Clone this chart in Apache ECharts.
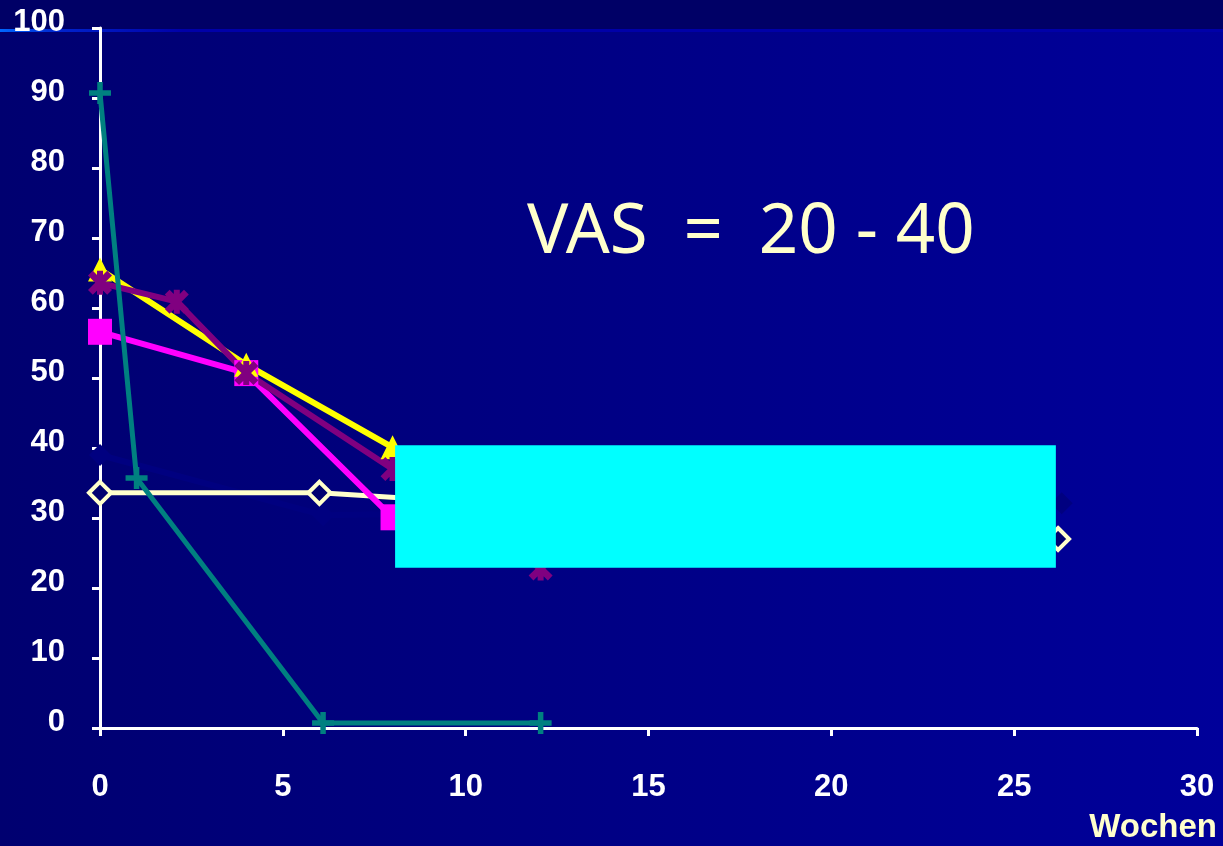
<!DOCTYPE html>
<html>
<head>
<meta charset="utf-8">
<script src="https://cdn.jsdelivr.net/npm/echarts@6/dist/echarts.min.js"></script>
<style>
    html, body { margin: 0; padding: 0; }
    #chart {
        width: 1223px;
        height: 846px;
        background: linear-gradient(to right, #000070, #00009a);
    }
</style>
</head>
<body>
<div id="chart"></div>
<script>
// Wochen / VAS
var xTicks = [0, 5, 10, 15, 20, 25, 30];
var yTicks = [0, 10, 20, 30, 40, 50, 60, 70, 80, 90, 100];

var tealX = [0, 1, 6.1, 12.05];
var tealY = [90.7, 35.7, 0.7, 0.7];

var yellowX = [0, 4, 8];
var yellowY = [65.5, 51.9, 40.1];

var purpleX = [0, 2.1, 4, 8, 12.05];
var purpleY = [63.6, 60.9, 50.7, 37, 22.8];

var magentaX = [0, 4, 8];
var magentaY = [56.6, 50.7, 30.1];

var navyX = [0, 6.1, 26.3];
var navyY = [39, 30.4, 32.1];

var creamX = [0, 6, 26.2];
var creamY = [33.6, 33.6, 27];

function pairs(xs, ys) {
    return xs.map(function (x, i) { return [x, ys[i]]; });
}

var plusPath = 'path://M7.5,0H12.5V7.5H20V12.5H12.5V20H7.5V12.5H0V7.5H7.5Z';
var starPath = 'path://M4,0L10,6L16,0L20,4L14,10L20,16L16,20L10,14L4,20L0,16L6,10L0,4Z M7.5,0H12.5V20H7.5Z';

(function () {
    'use strict';
    var myChart = echarts.init(document.getElementById('chart'));

    var labelFont = {
        color: '#ffffff',
        fontSize: 31,
        fontWeight: 'bold',
        fontFamily: '"Liberation Sans", Arial, sans-serif'
    };

    var option = {
        backgroundColor: 'transparent',
        animation: false,
        grid: {
            left: 100,
            right: 26,
            top: 28,
            bottom: 118
        },
        xAxis: {
            type: 'value',
            min: xTicks[0],
            max: xTicks[xTicks.length - 1],
            interval: 5,
            splitLine: { show: false },
            axisLine: { lineStyle: { color: '#ffffff', width: 3 } },
            axisTick: { show: true, length: 8, lineStyle: { color: '#ffffff', width: 3 } },
            axisLabel: Object.assign({ margin: 44 }, labelFont)
        },
        yAxis: {
            type: 'value',
            min: yTicks[0],
            max: yTicks[yTicks.length - 1],
            interval: 10,
            splitLine: { show: false },
            axisLine: { show: true, lineStyle: { color: '#ffffff', width: 3 } },
            axisTick: { show: true, length: 8, lineStyle: { color: '#ffffff', width: 3 } },
            axisLabel: Object.assign({ margin: 35, verticalAlign: 'bottom', lineHeight: 12 }, labelFont)
        },
        graphic: [
            {
                type: 'rect',
                z: -10,
                shape: { x: 0, y: 0, width: 1223, height: 29 },
                style: { fill: '#000066' }
            },
            {
                type: 'rect',
                z: -9,
                shape: { x: 0, y: 29, width: 1223, height: 3 },
                style: {
                    fill: {
                        type: 'linear', x: 0, y: 0, x2: 1, y2: 0,
                        colorStops: [
                            { offset: 0, color: '#0066ff' },
                            { offset: 0.05, color: '#0022cc' },
                            { offset: 0.15, color: '#0000a8' },
                            { offset: 1, color: '#0000a8' }
                        ]
                    }
                }
            },
            {
                type: 'text',
                x: 527,
                y: 233,
                style: {
                    text: 'VAS  =  20 - 40',
                    fill: '#ffffcc',
                    font: '69px "Noto Sans", sans-serif',
                    textAlign: 'left',
                    textVerticalAlign: 'middle'
                }
            },
            {
                type: 'text',
                x: 1217,
                y: 828,
                style: {
                    text: 'Wochen',
                    fill: '#ffffcc',
                    font: 'bold 33px "Liberation Sans", Arial, sans-serif',
                    textAlign: 'right',
                    textVerticalAlign: 'middle'
                }
            }
        ],
        series: [
            {
                name: 'navy',
                type: 'line',
                data: pairs(navyX, navyY),
                symbol: 'diamond',
                symbolSize: 22,
                itemStyle: { color: '#000080' },
                lineStyle: { color: '#000080', width: 6 }
            },
            {
                name: 'cream',
                type: 'line',
                data: pairs(creamX, creamY),
                symbol: 'diamond',
                symbolSize: 22,
                itemStyle: { color: '#000070', borderColor: '#ffffcc', borderWidth: 4 },
                lineStyle: { color: '#ffffcc', width: 5 }
            },
            {
                name: 'magenta',
                type: 'line',
                data: pairs(magentaX, magentaY),
                symbol: 'rect',
                symbolSize: [24, 26],
                itemStyle: { color: '#ff00ff' },
                lineStyle: { color: '#ff00ff', width: 6 }
            },
            {
                name: 'yellow',
                type: 'line',
                data: pairs(yellowX, yellowY),
                symbol: 'triangle',
                symbolSize: 24,
                itemStyle: { color: '#ffff00' },
                lineStyle: { color: '#ffff00', width: 6 }
            },
            {
                name: 'purple',
                type: 'line',
                data: pairs(purpleX, purpleY),
                symbol: starPath,
                symbolSize: 24,
                itemStyle: { color: '#800080' },
                lineStyle: { color: '#800080', width: 6 }
            },
            {
                name: 'teal',
                type: 'line',
                data: pairs(tealX, tealY),
                symbol: plusPath,
                symbolSize: 22,
                itemStyle: { color: '#008080' },
                lineStyle: { color: '#008080', width: 5 }
            },
            {
                // cyan box laid over the chart
                name: 'box',
                type: 'line',
                data: [],
                z: 10,
                markArea: {
                    silent: true,
                    z: 100,
                    itemStyle: { color: '#00ffff', opacity: 1 },
                    data: [[{ coord: [8.07, 40.4] }, { coord: [26.14, 22.9] }]]
                }
            }
        ]
    };
    myChart.setOption(option);
    window.addEventListener('resize', function () {
        myChart.resize();
    });
})();
</script>
</body>
</html>
